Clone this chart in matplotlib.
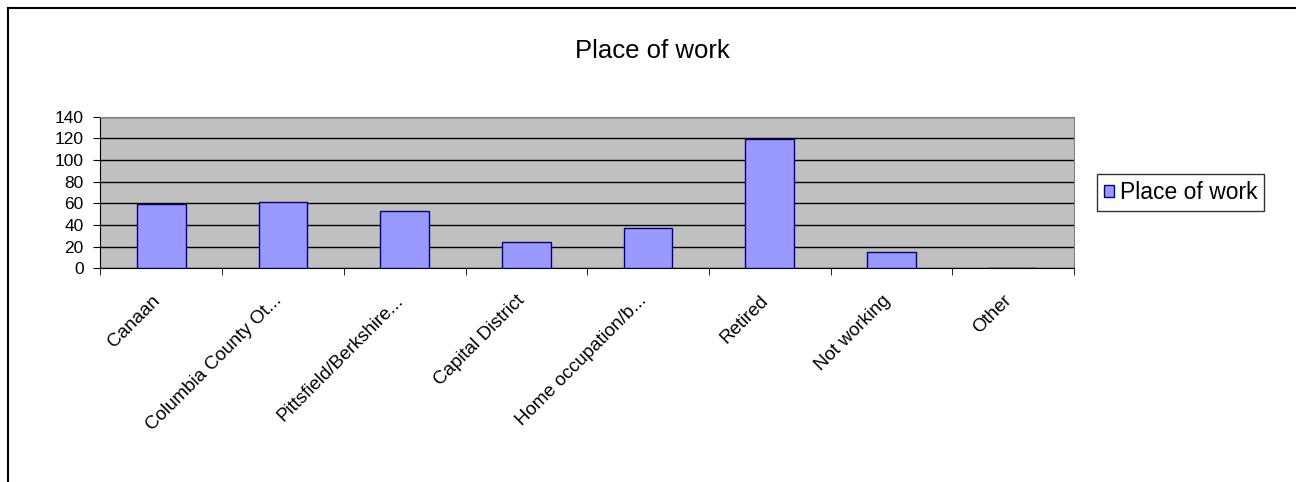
import numpy as np
import matplotlib
matplotlib.use("Agg")
import matplotlib.pyplot as plt
from matplotlib.lines import Line2D
from matplotlib.transforms import ScaledTranslation

plt.rcParams["font.family"] = ["Liberation Sans", "DejaVu Sans"]

# data
categories = [
    "Canaan",
    "Columbia County Ot...",
    "Pittsfield/Berkshire...",
    "Capital District",
    "Home occupation/b...",
    "Retired",
    "Not working",
    "Other",
]
counts = [59, 61, 53, 24, 37, 119, 15, 0]
y_ticks = [0, 20, 40, 60, 80, 100, 120, 140]

fig = plt.figure(figsize=(12.96, 4.82), dpi=100)
ax = fig.add_axes([0.0775, 0.443, 0.7512, 0.315])

x = np.arange(len(categories))
ax.set_facecolor("#C0C0C0")
ax.bar(x, counts, width=0.4, color="#9999FF", edgecolor="#000080",
       linewidth=1, label="Place of work", zorder=3)

ax.set_xlim(-0.5, len(categories) - 0.5)
ax.set_ylim(0, 140)
ax.set_yticks(y_ticks)
ax.set_yticklabels([str(v) for v in y_ticks], fontsize=12.5)
ax.yaxis.grid(True, color="black", linewidth=1, zorder=1)
ax.set_axisbelow(True)

# category labels at centres, tick marks at boundaries
ax.set_xticks(x)
ax.set_xticklabels(categories, rotation=45, ha="right", va="top",
                   rotation_mode="anchor", fontsize=13.5)
ax.tick_params(axis="x", which="major", length=0, pad=17)
for lbl in ax.get_xticklabels():
    lbl.set_transform(lbl.get_transform() + ScaledTranslation(-10 / 100, 0, fig.dpi_scale_trans))
ax.set_xticks(np.arange(-0.5, len(categories)), minor=True)
ax.tick_params(axis="x", which="minor", length=5, direction="out", color="black")
ax.tick_params(axis="y", length=5, direction="out", pad=7)

ax.spines["left"].set_color("black")
ax.spines["bottom"].set_color("black")
ax.spines["top"].set_color("#808080")
ax.spines["right"].set_color("#808080")

fig.text(0.503, 0.894, "Place of work", ha="center", va="center", fontsize=18.5)

leg = ax.legend(loc="center left", bbox_to_anchor=(1.024, 0.5), fontsize=16.5,
                frameon=True, fancybox=False, edgecolor="black",
                handlelength=0.42, handleheight=0.42, handletextpad=0.25,
                borderpad=0.3, borderaxespad=0)
leg.get_frame().set_linewidth(1)

# outer chart frame (only top and left visible in the reference)
fig.add_artist(Line2D([8 / 1296, 8 / 1296], [0, 1 - 8 / 482],
                      transform=fig.transFigure, color="black", linewidth=1.5))
fig.add_artist(Line2D([8 / 1296, 1], [1 - 8 / 482, 1 - 8 / 482],
                      transform=fig.transFigure, color="black", linewidth=1.5))

fig.savefig("out.png", dpi=100)
